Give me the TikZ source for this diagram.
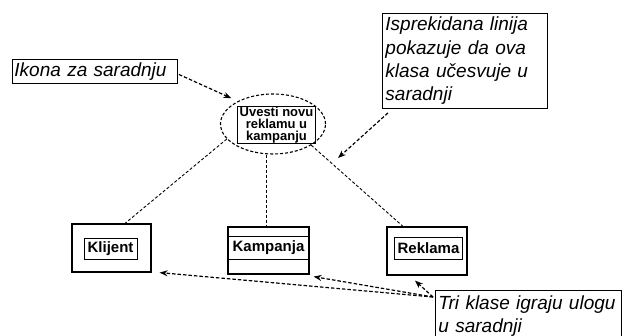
\documentclass[tikz,border=0pt]{standalone}
\usepackage{fontspec}
\setmainfont{Liberation Sans}
\usetikzlibrary{arrows.meta,calc,shapes.geometric}
\begin{document}
\begin{tikzpicture}[x=1pt,y=-1pt,
  note/.style={draw, line width=0.9pt, anchor=north west, align=left,
    inner ysep=0pt, font=\fontsize{19}{23.3}\selectfont\itshape},
  classbox/.style={draw, line width=1.2pt, inner sep=0pt},
  namebox/.style={draw, line width=0.9pt, inner ysep=0pt,
    font=\fontsize{15}{18}\selectfont\bfseries},
  link/.style={dash pattern=on 3pt off 2pt, line width=0.9pt},
  pointer/.style={dash pattern=on 3.5pt off 2pt, line width=1.2pt,
    -{Stealth[length=8pt,width=6pt]}},
]
\clip (0,0) rectangle (625,336);
\fill[white] (0,0) rectangle (625,336);

% explanatory notes
\node[note, text width=161pt, inner xsep=2pt, minimum height=24pt] (ikona) at (12,59) {Ikona za saradnju};
\node[note, text width=159pt, inner xsep=3pt, minimum height=95pt] (dashnote) at (382,13)
  {Isprekidana linija\\pokazuje da ova\\klasa učesvuje u\\saradnji};
\node[note, text width=180pt, inner xsep=3pt, inner ysep=5pt] (trinote) at (435,290)
  {Tri klase igraju ulogu\\u saradnji};

% collaboration
\node[ellipse, draw, dash pattern=on 3pt off 2pt, line width=1.1pt,
  minimum width=105pt, minimum height=60pt, inner sep=0pt] (col) at (273,124) {};
\node[draw, line width=1pt, font=\fontsize{13}{12}\selectfont\bfseries, align=center,
  inner xsep=2pt, inner ysep=0.5pt] (colname) at (276.5,125) {Uvesti novu\\reklamu u\\kampanju};

% classes
\node[classbox, minimum width=79pt, minimum height=48pt] (klijent) at (111.5,248) {};
\node[namebox, minimum width=53pt, minimum height=21pt] (klijentname) at (110.5,248.5) {Klijent};

\node[classbox, minimum width=81pt, minimum height=47pt] (kampanja) at (268.5,250.5) {};
\draw[line width=1pt] ($(kampanja.north west)+(0,10)$) -- ($(kampanja.north east)+(0,10)$);
\draw[line width=1pt] ($(kampanja.south west)+(0,-15)$) -- ($(kampanja.south east)+(0,-15)$);
\node[inner sep=0pt, font=\fontsize{15}{18}\selectfont\bfseries] (kampanjaname) at (268.5,248) {Kampanja};

\node[classbox, minimum width=80pt, minimum height=48pt] (reklama) at (427,251) {};
\node[namebox, minimum width=67pt, minimum height=22pt] (reklamaname) at (428.5,248) {Reklama};

% participation links
\draw[link] (col.198) -- ($(klijent.north)+(13.5,0)$);
\draw[link] ($(col.south)+(-7,0)$) -- ($(kampanja.north)+(-2.5,0)$);
\draw[link] (col.331) -- ($(reklama.north)+(-24,0)$);

% pointers from the notes
\draw[pointer, shorten >=7pt] ($(ikona.east)+(1,3)$) -- (col.147);
\coordinate (linkmark) at (338,158);
\draw[pointer] ($(dashnote.south west)+(6,4)$) -- (linkmark);
\coordinate (trisrc) at ($(trinote.north west)+(-2,7)$);
\draw[pointer] (trisrc) -- ($(klijent.south east)+(8,0)$);
\draw[pointer] (trisrc) -- ($(kampanja.south east)+(4,2)$);
\draw[pointer] (trisrc) -- ($(reklama.south)+(-12,5)$);
\end{tikzpicture}
\end{document}
